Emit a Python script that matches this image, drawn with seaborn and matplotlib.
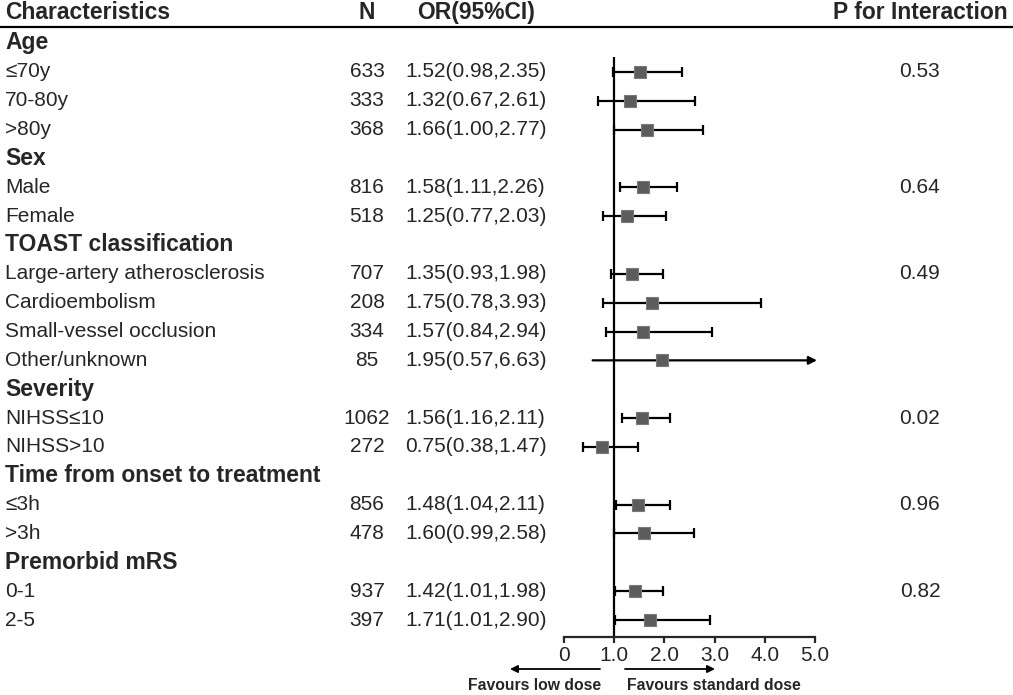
import matplotlib
matplotlib.use("Agg")
import matplotlib.pyplot as plt
import seaborn as sns
import pandas as pd

# subgroup data
groups = ["Age", "Sex", "TOAST classification", "Severity",
          "Time from onset to treatment", "Premorbid mRS"]
group_sizes = [3, 2, 4, 2, 2, 2]
p_interaction = ["0.53", "0.64", "0.49", "0.02", "0.96", "0.82"]
subgroups = ["≤70y", "70-80y", ">80y", "Male", "Female",
             "Large-artery atherosclerosis", "Cardioembolism",
             "Small-vessel occlusion", "Other/unknown",
             "NIHSS≤10", "NIHSS>10", "≤3h", ">3h", "0-1", "2-5"]
n_patients = [633, 333, 368, 816, 518, 707, 208, 334, 85, 1062, 272, 856, 478, 937, 397]
odds_ratio = [1.52, 1.32, 1.66, 1.58, 1.25, 1.35, 1.75, 1.57, 1.95, 1.56, 0.75, 1.48, 1.60, 1.42, 1.71]
ci_low = [0.98, 0.67, 1.00, 1.11, 0.77, 0.93, 0.78, 0.84, 0.57, 1.16, 0.38, 1.04, 0.99, 1.01, 1.01]
ci_high = [2.35, 2.61, 2.77, 2.26, 2.03, 1.98, 3.93, 2.94, 6.63, 2.11, 1.47, 2.11, 2.58, 1.98, 2.90]
x_ticks = [0, 1, 2, 3, 4, 5]
x_ticklabels = ["0", "1.0", "2.0", "3.0", "4.0", "5.0"]
x_max = 5.0

sns.set_style("white")
plt.rcParams["font.family"] = ["Liberation Sans", "DejaVu Sans"]

# build row layout: header row then its subgroup rows
rows = []
header_rows = []
k = 0
for g, size, p in zip(groups, group_sizes, p_interaction):
    header_rows.append((len(rows), g))
    rows.append(None)
    for j in range(size):
        rows.append((k, p if j == 0 else ""))
        k += 1

df = pd.DataFrame({
    "label": subgroups, "n": n_patients, "or": odds_ratio,
    "lo": ci_low, "hi": ci_high,
})
df["row"] = [i for i, r in enumerate(rows) if r is not None]
df["p"] = [r[1] for r in rows if r is not None]

W, H = 1013, 695
fig = plt.figure(figsize=(W / 100, H / 100), dpi=100)

# row r sits at pixel y = y0 + dy * r
y0, dy = 43.0, 28.85
def row_of(px):
    return (px - y0) / dy

bg = fig.add_axes([0, 0, 1, 1])
bg.set_xlim(0, W)
bg.set_ylim(row_of(H), row_of(0))
bg.axis("off")

fs = 15
hfs = 16.5
bg.text(5, row_of(13), "Characteristics", fontsize=hfs, fontweight="bold", va="center")
bg.text(367, row_of(13), "N", fontsize=hfs, fontweight="bold", va="center", ha="center")
bg.text(417, row_of(13), "OR(95%CI)", fontsize=hfs, fontweight="bold", va="center")
bg.text(1008, row_of(13), "P for Interaction", fontsize=hfs, fontweight="bold", va="center", ha="right")
bg.plot([0, W], [row_of(27), row_of(27)], color="black", lw=1.6)

for r, g in header_rows:
    bg.text(5, r, g, fontsize=hfs, fontweight="bold", va="center")

for _, d in df.iterrows():
    bg.text(5, d["row"], d["label"], fontsize=fs, va="center")
    bg.text(367, d["row"], f"{d['n']}", fontsize=fs, va="center", ha="center")
    bg.text(405, d["row"], f"{d['or']:.2f}({d['lo']:.2f},{d['hi']:.2f})", fontsize=fs, va="center")
    if d["p"]:
        bg.text(920, d["row"], d["p"], fontsize=fs, va="center", ha="center")

# forest panel
ax_left, ax_right, ax_top, ax_bottom = 564, 815, 57, 637
ax = fig.add_axes([ax_left / W, (H - ax_bottom) / H, (ax_right - ax_left) / W, (ax_bottom - ax_top) / H])
ax.set_xlim(0, x_max)
ax.set_ylim(row_of(ax_bottom), row_of(ax_top))
ax.patch.set_alpha(0)
for s in ["top", "right", "left"]:
    ax.spines[s].set_visible(False)
ax.spines["bottom"].set_linewidth(1.6)
ax.set_yticks([])
ax.set_xticks(x_ticks)
ax.set_xticklabels(x_ticklabels, fontsize=fs)
ax.tick_params(axis="x", direction="out", length=4.5, width=1.6, pad=2, bottom=True)
ax.axvline(1, color="black", lw=1.6, zorder=1)

inside = df[df["hi"] <= x_max]
ax.errorbar(inside["or"], inside["row"],
            xerr=[inside["or"] - inside["lo"], inside["hi"] - inside["or"]],
            fmt="none", ecolor="black", elinewidth=1.6, capsize=3.3, capthick=1.6, zorder=2)
outside = df[df["hi"] > x_max]
for _, d in outside.iterrows():
    ax.annotate("", xy=(x_max + 0.04, d["row"]), xytext=(d["lo"], d["row"]),
                arrowprops=dict(arrowstyle="-|>", color="black", lw=1.6, mutation_scale=12,
                                shrinkA=0, shrinkB=0),
                annotation_clip=False, zorder=2)

sns.scatterplot(data=df, x="or", y="row", marker="s", s=85, color="#5c5c5c",
                edgecolor="#7a7a7a", linewidth=0.8, ax=ax, zorder=3, legend=False)
ax.set_xlabel("")
ax.set_ylabel("")
ax.set_ylim(row_of(ax_bottom), row_of(ax_top))

# direction arrows under the axis
ya = row_of(669)
bg.annotate("", xy=(510, ya), xytext=(600, ya),
            arrowprops=dict(arrowstyle="-|>", color="black", lw=1.3, mutation_scale=11,
                            shrinkA=0, shrinkB=0))
bg.annotate("", xy=(715, ya), xytext=(625, ya),
            arrowprops=dict(arrowstyle="-|>", color="black", lw=1.3, mutation_scale=11,
                            shrinkA=0, shrinkB=0))
bg.text(535, row_of(686), "Favours low dose", fontsize=11.3, fontweight="bold", va="center", ha="center")
bg.text(627, row_of(686), "Favours standard dose", fontsize=11.3, fontweight="bold", va="center", ha="left")

fig.savefig("out.png", dpi=100)
